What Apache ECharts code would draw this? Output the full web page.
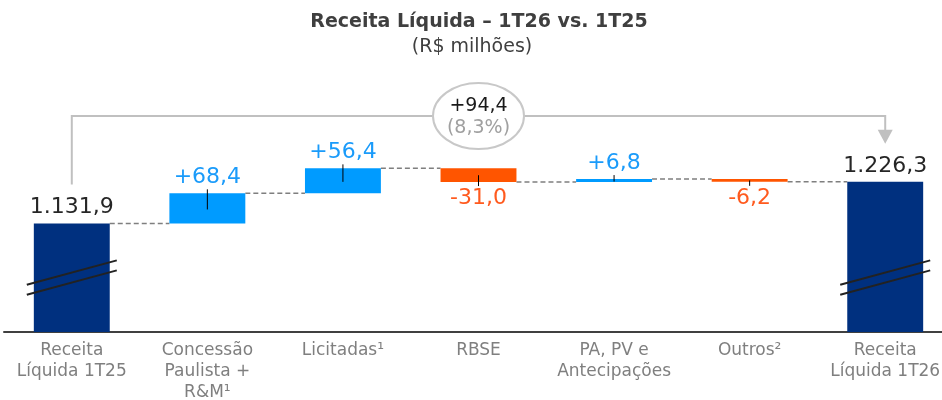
<!DOCTYPE html>
<html><head><meta charset="utf-8">
<script src="https://cdn.jsdelivr.net/npm/echarts@6/dist/echarts.min.js"></script>
<style>html,body{margin:0;padding:0;background:#fff}#c{width:942px;height:400px}</style>
</head><body><div id="c"></div>
<script>
const categories = ['Receita\nLíquida 1T25', 'Concessão\nPaulista +\nR&M¹', 'Licitadas¹', 'RBSE', 'PA, PV e\nAntecipações', 'Outros²', 'Receita\nLíquida 1T26'];
const values = [1131.9, 68.4, 56.4, -31.0, 6.8, -6.2, 1226.3];
const isTotal = [true, false, false, false, false, false, true];
const diffAbs = [94.4];
const diffPct = [8.3];
const yMin = 887, yMax = 1375;
const breakLevel = 1010;

const C_TOTAL = '#00307F', C_POS = '#009BFF', C_NEG = '#FF5500';
const L_TOTAL = '#262626', L_POS = '#1A9BFA', L_NEG = '#FF5A1E';
const FONT = 'DejaVu Sans';

function fmt(v){ const s = Math.abs(v).toFixed(1); let [i,d] = s.split('.'); i = i.replace(/\B(?=(\d{3})+(?!\d))/g,'.'); return i+','+d; }

let run = 0; const lows = [], highs = [], levels = [];
values.forEach((v,i)=>{
  if (isTotal[i]) { lows.push(0); highs.push(v); run = v; }
  else { const s = run, e = run + v; lows.push(Math.min(s,e)); highs.push(Math.max(s,e)); run = e; }
  levels.push(run);
});

const baseData = values.map((v,i)=> isTotal[i] ? '-' : lows[i]);
const visData = values.map((v,i)=>{
  const col = isTotal[i] ? C_TOTAL : (v >= 0 ? C_POS : C_NEG);
  const lcol = isTotal[i] ? L_TOTAL : (v >= 0 ? L_POS : L_NEG);
  const txt = isTotal[i] ? fmt(v) : (v >= 0 ? '+' : '-') + fmt(v);
  return { value: highs[i]-lows[i], itemStyle:{color:col},
    label:{ show:true, position: (!isTotal[i] && v<0) ? 'bottom' : 'top', distance: 5, color:lcol, formatter: txt, fontSize:22, fontFamily:FONT } };
});
const tickData = values.map((v,i)=> [i, lows[i], highs[i], v>=0?1:-1]).filter((d,i)=>!isTotal[i]);
const connData = levels.slice(0, levels.length-1).map((l,i)=>[i, l]);
const breakData = values.map((v,i)=>[i, breakLevel]).filter((d,i)=>isTotal[i]);
const BW = 0.56;

const chart = echarts.init(document.getElementById('c'), null, {renderer:'canvas'});
chart.setOption({
  animation:false,
  title:[
    {text:'Receita Líquida – 1T26 vs. 1T25', left:474, textAlign:'center', top:8, textStyle:{fontFamily:FONT, fontWeight:'bold', fontSize:19, color:'#3F3F3F'}},
    {text:'(R$ milhões)', left:467, textAlign:'center', top:33, textStyle:{fontFamily:FONT, fontWeight:'normal', fontSize:19, color:'#3F3F3F'}}
  ],
  grid:{left:4, right:-11, top:116, bottom:68, containLabel:false, outerBoundsMode:'none'},
  xAxis:{type:'category', data:categories, axisTick:{show:false},
    axisLine:{show:true, lineStyle:{color:'#404040', width:2}},
    axisLabel:{interval:0, color:'#7F7F7F', fontFamily:FONT, fontSize:17, lineHeight:21, margin:8}},
  yAxis:{type:'value', min:yMin, max:yMax, show:false, splitLine:{show:false}},
  series:[
    {type:'bar', stack:'w', data:baseData, barWidth:(BW*100)+'%', itemStyle:{color:'transparent'}, silent:true},
    {type:'bar', stack:'w', data:visData, barWidth:(BW*100)+'%'},
    {type:'custom', data:connData, z:1, renderItem:(params, api)=>{
      const p = api.coord([api.value(0), api.value(1)]);
      const w = api.size([1,0])[0]; const bw = w*BW;
      return {type:'line', shape:{x1:p[0]+bw/2, y1:p[1], x2:p[0]+w-bw/2, y2:p[1]},
        style:{stroke:'#7F7F7F', lineWidth:1.5, lineDash:[5,3]}};
    }},
    {type:'custom', data:tickData, z:5, renderItem:(params, api)=>{
      const i = api.value(0);
      const pl = api.coord([i, api.value(1)]), ph = api.coord([i, api.value(2)]);
      const mid = (pl[1]+ph[1])/2;
      const y1 = api.value(3) > 0 ? ph[1]-4 : mid;
      const y2 = api.value(3) > 0 ? mid+1 : pl[1]+4;
      return {type:'line', shape:{x1:ph[0], y1:y1, x2:ph[0], y2:y2}, style:{stroke:'#000', lineWidth:1}};
    }},
    {type:'custom', data:breakData, z:6, renderItem:(params, api)=>{
      const p = api.coord([api.value(0), api.value(1)]);
      const mk = (dy)=>({type:'line', shape:{x1:p[0]-45, y1:p[1]+dy+12.15, x2:p[0]+45, y2:p[1]+dy-12.15}, style:{stroke:'#222', lineWidth:2}});
      return {type:'group', children:[mk(-5), mk(5)]};
    }},
    {type:'custom', data:[[0, 6]], z:7, renderItem:(params, api)=>{
      const a = api.value(0), b = api.value(1);
      const pa = api.coord([a, yMax]), pb = api.coord([b, yMax]);
      const ta = api.coord([a, highs[a]]), tb = api.coord([b, highs[b]]);
      const y0 = pa[1];
      const tip = tb[1]-38;
      const cx = (pa[0]+pb[0])/2;
      const st = {stroke:'#C0C0C0', lineWidth:2, fill:null};
      return {type:'group', children:[
        {type:'polyline', shape:{points:[[pa[0], ta[1]-39],[pa[0], y0],[pb[0], y0],[pb[0], tip-13]]}, style:st},
        {type:'polygon', shape:{points:[[pb[0]-7.5, tip-14],[pb[0]+7.5, tip-14],[pb[0], tip]]}, style:{fill:'#C0C0C0'}},
        {type:'ellipse', shape:{cx:cx, cy:y0, rx:45.5, ry:33}, style:{fill:'#fff', stroke:'#C8C8C8', lineWidth:2}},
        {type:'text', x:cx, y:y0-10, style:{text:'+'+fmt(diffAbs[0]), fill:'#1A1A1A', fontSize:19, fontFamily:FONT, align:'center', verticalAlign:'middle'}},
        {type:'text', x:cx, y:y0+12, style:{text:'('+fmt(diffPct[0])+'%)', fill:'#A0A0A0', fontSize:19, fontFamily:FONT, align:'center', verticalAlign:'middle'}}
      ]};
    }}
  ]
});
</script></body></html>
